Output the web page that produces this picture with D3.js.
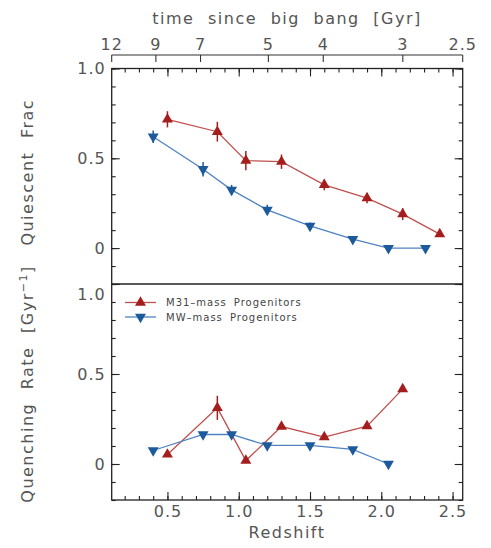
<!DOCTYPE html>
<html lang="en">
<head>
<meta charset="UTF-8">
<title>Quiescent fraction and quenching rate</title>
<style>
  body { margin: 0; background: #fff; }
  text { font-family: "DejaVu Sans", sans-serif; fill: #555; }
</style>
</head>
<body>
<script src="https://d3js.org/d3.v7.min.js"></script>
<script>
// values
var m31Z       = [0.50, 0.85, 1.05, 1.30, 1.60, 1.90, 2.15, 2.41];
var m31Frac    = [0.717, 0.648, 0.487, 0.481, 0.352, 0.278, 0.189, 0.078];
var m31FracErr = [0.045, 0.055, 0.053, 0.040, 0.030, 0.028, 0.033, 0.015];
var m31Rate    = [0.053, 0.312, 0.019, 0.208, 0.149, 0.210, 0.416];
var m31RateErr = [0.010, 0.067, 0.010, 0.010, 0.010, 0.010, 0.010];

var mwZ        = [0.40, 0.75, 0.95, 1.20, 1.50, 1.80, 2.05, 2.31];
var mwFrac     = [0.620, 0.439, 0.324, 0.213, 0.124, 0.050, 0.000, 0.000];
var mwFracErr  = [0.035, 0.040, 0.028, 0.028, 0.018, 0.015, 0.010, 0.010];
var mwRate     = [0.075, 0.164, 0.164, 0.103, 0.103, 0.081, 0.000];
var mwRateErr  = [0.008, 0.008, 0.008, 0.008, 0.008, 0.008, 0.008];

var zTicks     = [0.5, 1.0, 1.5, 2.0, 2.5];
var yTicks     = [0, 0.5, 1.0];
var ageTicks   = [12, 9, 7, 5, 4, 3, 2.5];
var ageTickZ   = [0.109, 0.419, 0.732, 1.208, 1.593, 2.151, 2.571];

var red = "#a51e1e", redLine = "#c0504d";
var blue = "#1c5a9c", blueLine = "#4f82c2";

var W = 491, H = 548;
var pLeft = 111.7, pRight = 462.7, pTop = 68.5, pMid = 284, pBottom = 500;

var svg = d3.select("body").append("svg")
    .attr("width", W).attr("height", H);

var x = d3.scaleLinear().domain([0.109, 2.571]).range([pLeft, pRight]);
var yTop = d3.scaleLinear().domain([-0.2, 1.0]).range([pMid, pTop]);
var yBot = d3.scaleLinear().domain([-0.2, 1.0]).range([pBottom, pMid]);

var minorY = d3.range(-0.2, 1.001, 0.1).map(function(d) { return +d.toFixed(1); });
var minorX = d3.range(0.2, 2.56, 0.1).map(function(d) { return +d.toFixed(1); });

function styleAxis(g) {
    g.select(".domain").remove();
    g.selectAll(".tick line").attr("stroke", "#222").attr("stroke-width", 1.1);
    g.selectAll(".tick text").style("font-size", "16px").style("letter-spacing", "1px").attr("fill", "#555");
}

function yAxes(y) {
    svg.append("g").attr("transform", "translate(" + pLeft + ",0)")
        .call(d3.axisLeft(y).tickValues(minorY).tickSize(-4).tickFormat(""))
        .call(styleAxis);
    var lab = svg.append("g").attr("transform", "translate(" + pLeft + ",0)")
        .call(d3.axisLeft(y).tickValues(yTicks).tickSize(-8).tickPadding(6)
              .tickFormat(function(d) { return d === 0 ? "0" : d3.format(".1f")(d); }))
        .call(styleAxis);
    svg.append("g").attr("transform", "translate(" + pRight + ",0)")
        .call(d3.axisRight(y).tickValues(minorY).tickSize(-4).tickFormat(""))
        .call(styleAxis);
    svg.append("g").attr("transform", "translate(" + pRight + ",0)")
        .call(d3.axisRight(y).tickValues(yTicks).tickSize(-8).tickFormat(""))
        .call(styleAxis);
    return lab;
}
yAxes(yTop);
var botLab = yAxes(yBot);
// the lower panel's 1.0 label sits a little below the divider
botLab.selectAll(".tick text")
    .filter(function(t) { return t === 1.0; })
    .attr("dy", "0.95em");

// bottom x axis (ticks point up)
svg.append("g").attr("transform", "translate(0," + pBottom + ")")
    .call(d3.axisBottom(x).tickValues(minorX).tickSize(-4).tickFormat(""))
    .call(styleAxis);
svg.append("g").attr("transform", "translate(0," + pBottom + ")")
    .call(d3.axisBottom(x).tickValues(zTicks).tickSize(-8).tickPadding(6).tickFormat(d3.format(".1f")))
    .call(styleAxis);
// x ticks along the top of upper panel (ticks point down)
svg.append("g").attr("transform", "translate(0," + pTop + ")")
    .call(d3.axisTop(x).tickValues(minorX).tickSize(-4).tickFormat(""))
    .call(styleAxis);
svg.append("g").attr("transform", "translate(0," + pTop + ")")
    .call(d3.axisTop(x).tickValues(zTicks).tickSize(-8).tickFormat(""))
    .call(styleAxis);

// top time axis
var ageY = 55;
svg.append("line").attr("x1", pLeft).attr("x2", pRight).attr("y1", ageY).attr("y2", ageY)
    .attr("stroke", "#333").attr("stroke-width", 1.1);
var ageG = svg.append("g");
ageTicks.forEach(function(a, i) {
    var px = x(ageTickZ[i]);
    ageG.append("line").attr("x1", px).attr("x2", px).attr("y1", ageY).attr("y2", ageY + 7)
        .attr("stroke", "#333").attr("stroke-width", 1.1);
    ageG.append("text").attr("x", px).attr("y", ageY - 5).attr("text-anchor", "middle")
        .style("font-size", "16px").style("letter-spacing", "1px").text(a);
});

// frames
svg.append("rect").attr("x", pLeft).attr("y", pTop).attr("width", pRight - pLeft).attr("height", pBottom - pTop)
    .attr("fill", "none").attr("stroke", "#222").attr("stroke-width", 1.3);
svg.append("line").attr("x1", pLeft).attr("x2", pRight).attr("y1", pMid).attr("y2", pMid)
    .attr("stroke", "#222").attr("stroke-width", 1.3);

// titles
svg.append("text").attr("x", 287).attr("y", 24).attr("text-anchor", "middle")
    .style("font-size", "16px").style("letter-spacing", "1.5px").style("word-spacing", "7px")
    .text("time since big bang [Gyr]");
svg.append("text").attr("x", 287).attr("y", 538).attr("text-anchor", "middle")
    .style("font-size", "16px").style("letter-spacing", "1.5px")
    .text("Redshift");
svg.append("text").attr("transform", "translate(33," + ((pTop + pMid) / 2 - 4) + ") rotate(-90)")
    .attr("text-anchor", "middle")
    .style("font-size", "16px").style("letter-spacing", "1.5px").style("word-spacing", "7px")
    .text("Quiescent Frac");
var qr = svg.append("text").attr("transform", "translate(33," + ((pMid + pBottom) / 2 - 8) + ") rotate(-90)")
    .attr("text-anchor", "middle")
    .style("font-size", "16px").style("letter-spacing", "1.5px").style("word-spacing", "7px");
qr.append("tspan").text("Quenching Rate [Gyr");
qr.append("tspan").attr("baseline-shift", "super").style("font-size", "11px").text("\u22121");
qr.append("tspan").text("]");

// series
var up = d3.symbol().type(d3.symbolTriangle).size(52);

function series(zs, vs, es, y, lineColor, color, down) {
    var pts = zs.slice(0, vs.length).map(function(z, i) { return {z: z, v: vs[i], e: es[i]}; });
    var g = svg.append("g");
    g.append("path").datum(pts)
        .attr("fill", "none").attr("stroke", lineColor).attr("stroke-width", 1.3)
        .attr("d", d3.line().x(function(d) { return x(d.z); }).y(function(d) { return y(d.v); }));
    g.selectAll(".err").data(pts).enter().append("line")
        .attr("x1", function(d) { return x(d.z); }).attr("x2", function(d) { return x(d.z); })
        .attr("y1", function(d) { return y(d.v - d.e); }).attr("y2", function(d) { return y(d.v + d.e); })
        .attr("stroke", color).attr("stroke-width", 1.5);
    g.selectAll(".pt").data(pts).enter().append("path")
        .attr("d", up)
        .attr("fill", color)
        .attr("transform", function(d) {
            return "translate(" + x(d.z) + "," + y(d.v) + ")" + (down ? " rotate(180)" : "");
        });
}
series(m31Z, m31Frac, m31FracErr, yTop, redLine, red, false);
series(mwZ, mwFrac, mwFracErr, yTop, blueLine, blue, true);
series(m31Z, m31Rate, m31RateErr, yBot, redLine, red, false);
series(mwZ, mwRate, mwRateErr, yBot, blueLine, blue, true);

// legend
var legend = [
    {name: "M31\u2013mass Progenitors", line: redLine, color: red, down: false},
    {name: "MW\u2013mass Progenitors", line: blueLine, color: blue, down: true}
];
legend.forEach(function(l, i) {
    var ly = 302.5 + i * 14.5;
    svg.append("line").attr("x1", 125).attr("x2", 156).attr("y1", ly).attr("y2", ly)
        .attr("stroke", l.line).attr("stroke-width", 1.3);
    svg.append("path").attr("d", up).attr("fill", l.color)
        .attr("transform", "translate(140.5," + ly + ")" + (l.down ? " rotate(180)" : ""));
    svg.append("text").attr("x", 166).attr("y", ly + 3.5)
        .style("font-size", "10px").style("letter-spacing", "1px").style("word-spacing", "3px")
        .style("fill", "#444")
        .text(l.name);
});
</script>
</body>
</html>
